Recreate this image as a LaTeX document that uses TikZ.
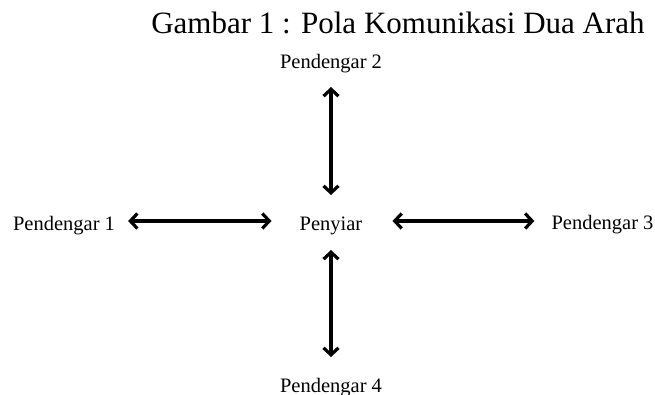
\documentclass[tikz,border=0pt]{standalone}
\usepackage{fontspec}
\setmainfont{Liberation Serif}
\usetikzlibrary{arrows.meta}
\tikzset{
  lbl/.style={anchor=base, inner sep=0pt, font=\fontsize{20.5}{24}\selectfont},
  ttl/.style={anchor=base, inner sep=0pt, font=\fontsize{31}{36}\selectfont},
  arr/.style={line width=3.2pt, {Straight Barb[length=7pt,width=15pt]}-{Straight Barb[length=7pt,width=15pt]}}
}
\begin{document}
\begin{tikzpicture}[x=1pt,y=-1pt]
\useasboundingbox (0,0) rectangle (655,394);
\node[ttl] (title) at (398,33) {Gambar 1 : Pola Komunikasi Dua Arah};
\node[lbl] (p2) at (331,68) {Pendengar 2};
\node[lbl] (pen) at (331,230) {Penyiar};
\node[lbl] (p1) at (64,230) {Pendengar 1};
\node[lbl] (p3) at (602.5,229) {Pendengar 3};
\node[lbl] (p4) at (331,392) {Pendengar 4};
% horizontal
\draw[arr, shorten <=13pt, shorten >=28pt] ([yshift=9pt]p1.base east) -- ([yshift=9pt]pen.base west);
\draw[arr, shorten <=30pt, shorten >=17pt] ([yshift=9pt]pen.base east) -- ([yshift=8pt]p3.base west);
% vertical
\draw[arr] ([yshift=-19pt]p2.base) -- ([yshift=35pt]pen.base);
\draw[arr] ([yshift=-20pt]pen.base) -- ([yshift=35pt]p4.base);
\end{tikzpicture}
\end{document}
